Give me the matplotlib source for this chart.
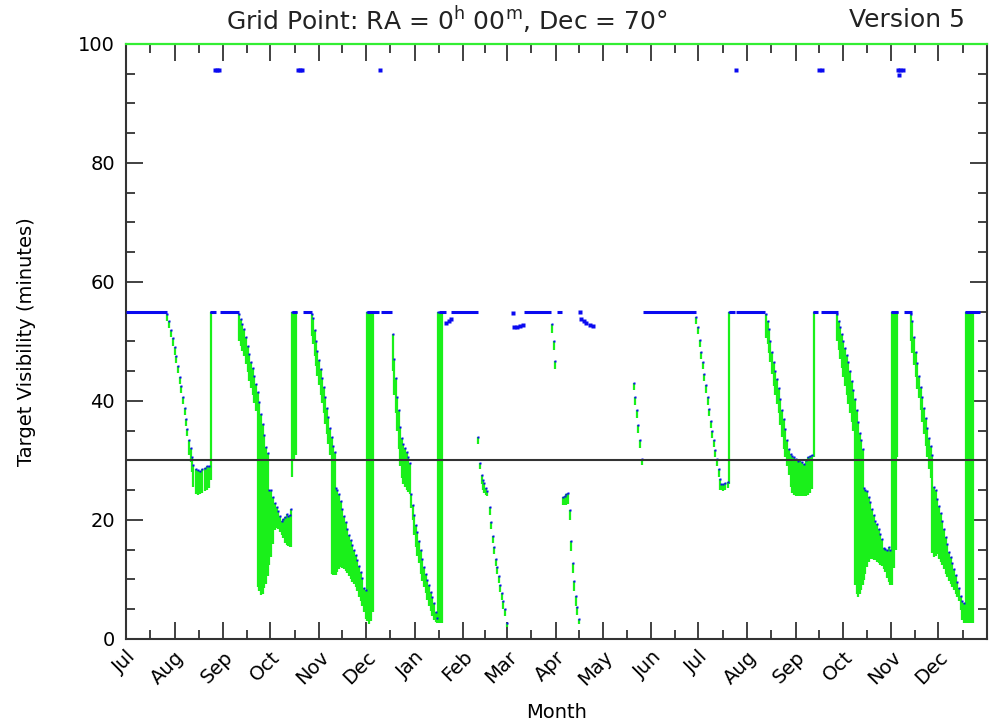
import numpy as np
import matplotlib.pyplot as plt
from matplotlib.ticker import MultipleLocator

# months along the x axis (18 months, Jul .. Dec of the following year)
month_names = ["Jul", "Aug", "Sep", "Oct", "Nov", "Dec", "Jan", "Feb", "Mar",
               "Apr", "May", "Jun", "Jul", "Aug", "Sep", "Oct", "Nov", "Dec"]
month_len = [31, 31, 30, 31, 30, 31, 31, 28, 31, 30, 31, 30, 31, 31, 30, 31, 30, 31]

# daily visibility: day since Jul 1, maximum (blue dot) and minimum (green bar) in minutes
vis_day = [
    26.3, 27.6, 28.7, 30.0, 31.1, 32.1, 33.2, 34.2, 35.3, 36.3, 37.4, 38.3, 39.1, 40.2, 41.3, 42.1,
    42.9, 44.4, 45.9, 47.2, 48.6, 50.2, 51.8, 53.1, 54.0,
    72.0, 73.1, 74.2, 75.2, 76.5, 77.6, 78.6, 79.7, 80.8, 81.8, 82.9, 84.0, 85.0, 86.1, 87.2, 88.2, 89.3, 90.3,
    91.2, 92.4, 93.7, 95.0, 96.1, 97.1, 98.2, 99.3, 100.3, 101.4, 102.5, 103.5, 104.6, 105.2,
    105.8, 107.1, 108.4,
    118.4, 119.4, 120.3, 121.1, 122.0, 123.1, 124.1, 125.2, 126.1, 127.1, 128.2, 129.0, 130.1, 131.2, 132.0, 133.1,
    133.7, 134.7, 135.8, 136.9, 137.9, 139.0, 140.1, 141.1, 142.2, 143.3, 144.3, 145.4, 146.5, 147.5, 148.6,
    149.6, 150.7, 151.7, 153.0,
    153.7, 154.9, 156.2, 157.5,
    170.0, 170.9, 172.0, 173.0, 173.9, 174.7, 175.8, 176.8, 177.9, 179.0, 180.0, 180.8, 181.9, 183.0,
    183.6, 184.7, 185.7, 186.6, 187.9, 188.9, 190.0, 191.1, 192.1, 193.2, 194.3, 195.3, 196.4, 197.5, 198.5,
    198.9, 200.2, 201.5,
    224.6, 225.7, 226.8, 227.6, 228.5, 229.3, 230.4, 232.1, 233.0, 233.8, 234.8, 235.9, 236.8, 237.9, 238.7,
    239.7, 240.6, 241.7, 242.7,
    271.8, 272.7, 273.7,
    278.6, 279.7, 280.7, 281.8, 282.9, 283.7, 284.8, 285.8, 286.9, 287.7, 288.8,
    323.9, 324.8, 325.9, 326.7, 327.7, 328.8,
    363.6, 364.7, 365.8, 366.8, 367.7, 368.7, 369.8, 370.9, 371.7, 372.8, 373.6, 374.7, 375.7, 376.8, 377.9, 378.7,
    379.6, 380.7, 382.1, 383.7, 384.3,
    408.1, 409.1, 410.0, 410.8, 411.9, 413.0, 414.0, 415.1, 416.2, 417.2, 418.3, 419.3, 420.4, 421.5, 422.5,
    423.8, 424.8,
    425.9, 427.2, 428.5, 429.7, 431.0, 432.3, 433.4, 434.7, 435.9, 437.2, 438.5,
    453.3, 454.4, 455.2, 456.3, 457.3, 458.4, 459.5, 460.5, 461.6, 462.7, 463.7, 464.8, 465.9, 466.9, 468.0,
    468.8, 469.7,
    470.3, 471.4, 472.5, 473.5, 474.6, 475.7, 476.7, 477.8, 478.8, 479.9, 480.9, 482.0, 483.1, 484.1, 485.2,
    486.3, 487.3,
    488.4, 489.6, 490.8, 491.9,
    500.3, 501.4, 502.4, 503.5, 504.5, 505.6, 506.7, 507.7, 508.8, 509.9, 510.9, 512.0, 513.1, 514.1, 515.2,
    516.3, 517.3, 518.4, 519.4, 520.5, 521.5, 522.6, 523.7, 524.7, 525.8, 526.9, 527.9, 529.0, 530.0, 531.1,
    532.2, 533.2, 534.3,
    535.3, 536.6, 537.8, 539.1, 540.2,
]
vis_max = [
    54.7, 53.5, 52.0, 50.5, 49.0, 47.5, 45.9, 44.1, 42.5, 40.7, 38.9, 37.0, 35.3, 33.5, 32.1, 30.6,
    29.2, 28.6, 28.4, 28.3, 28.6, 28.8, 29.0, 29.1, 55,
    54.6, 53.7, 52.9, 52.1, 50.7, 49.3, 47.9, 46.6, 45.5, 44.2, 42.8, 41.5, 39.8, 37.8, 36.1, 34.2, 32.2, 31.3,
    25.1, 25.0, 23.9, 22.9, 22.2, 21.5, 20.7, 19.9, 20.1, 20.5, 21.0, 20.6, 20.8, 21.9,
    55, 55, 55,
    54.6, 53.9, 51.9, 50.1, 48.4, 46.9, 45.4, 43.9, 42.3, 40.6, 38.9, 37.3, 35.4, 33.9, 32.5, 31.4,
    25.3, 25.0, 24.4, 23.2, 21.9, 20.6, 19.7, 18.5, 17.5, 16.6, 15.8, 14.9, 14.1, 13.2, 12.2,
    11.3, 10.2, 8.5, 8.3,
    55, 55, 55, 55,
    51.2, 47.0, 43.9, 40.6, 38.5, 35.7, 33.7, 32.8, 32.1, 31.4, 30.6, 29.6, 24.4, 22.5,
    20.9, 19.2, 18.0, 16.5, 15.0, 13.4, 12.1, 11.0, 9.9, 9.0, 7.9, 7.1, 6.0, 4.6, 3.6,
    55, 55, 55,
    33.9, 29.6, 27.5, 26.8, 26.2, 25.3, 24.9, 22.1, 19.7, 17.3, 15.4, 13.5, 12.1, 10.6, 9.1,
    7.7, 6.3, 5.1, 2.6,
    53.0, 50.1, 46.8,
    23.9, 24.1, 24.3, 24.6, 21.7, 16.5, 12.8, 9.8, 7.3, 5.3, 3.3,
    43.1, 40.6, 38.5, 35.9, 33.4, 30.3,
    54.1, 52.5, 50.2, 48.2, 46.6, 44.5, 42.6, 40.6, 38.7, 36.6, 34.9, 33.4, 31.7, 30.3, 28.6, 26.9,
    26.1, 26.1, 26.2, 26.4, 55,
    54.6, 53.5, 52.1, 50.1, 48.2, 46.6, 45.1, 43.7, 42.2, 40.3, 38.5, 37.0, 35.3, 33.4, 32.0,
    31.1, 30.7,
    30.6, 30.3, 29.9, 30.0, 29.7, 29.4, 30.0, 30.6, 30.8, 30.9, 55,
    54.6, 53.5, 52.5, 51.2, 50.1, 48.9, 47.7, 46.5, 45.1, 43.4, 41.9, 40.3, 38.5, 36.5, 34.6,
    33.4, 32.0,
    25.4, 25.1, 24.9, 23.9, 23.0, 21.9, 20.9, 19.9, 19.3, 18.5, 17.7, 16.8, 15.3, 15.1, 15.0,
    15.5, 15.0,
    55, 55, 55, 55,
    54.6, 53.5, 50.7, 48.3, 46.4, 44.2, 42.4, 40.7, 38.8, 37.1, 35.4, 33.7, 32.5, 30.9, 25.6,
    25.1, 23.6, 22.3, 21.1, 19.9, 18.4, 17.2, 16.0, 14.6, 13.8, 12.7, 11.7, 10.7, 9.6, 8.5,
    7.2, 6.3, 6.1,
    55, 55, 55, 55, 55,
]
vis_min = [
    53.5, 52.3, 50.8, 49.3, 47.8, 46.3, 44.7, 42.9, 41.3, 39.5, 37.7, 35.8, 34.1, 31.0, 29.8, 28.0,
    25.5, 24.3, 24.2, 24.3, 24.5, 24.8, 25.1, 25.4, 26.8,
    50.1, 49.2, 48.4, 47.6, 46.2, 44.8, 43.4, 42.1, 41.0, 39.7, 38.3, 8.8, 8.0, 7.4, 7.6, 8.5, 9.3, 10.5,
    12.5, 13.8, 16.0, 18.3, 18.6, 18.5, 18.0, 17.5, 16.9, 16.2, 15.8, 15.6, 15.4, 15.5,
    27.2, 30.0, 31.0,
    51.0, 49.5, 47.5, 45.8, 44.2, 42.6, 41.0, 39.6, 38.0, 36.2, 34.5, 32.8, 31.0, 11.0, 10.7, 10.7,
    10.8, 11.2, 11.8, 12.1, 12.0, 11.7, 11.4, 11.1, 10.6, 10.1, 9.6, 9.2, 8.7, 8.0, 7.0,
    6.3, 5.5, 4.5, 3.3,
    3.0, 2.5, 3.0, 4.5,
    45.0, 41.0, 38.0, 35.0, 32.0, 29.0, 27.0, 26.0, 25.5, 25.0, 24.7, 24.4, 22.0, 20.0,
    17.5, 15.5, 14.0, 12.8, 11.0, 9.8, 8.8, 7.7, 6.5, 5.6, 4.7, 3.9, 3.2, 2.8, 2.6,
    2.6, 2.6, 2.6,
    32.8, 28.5, 26.0, 25.0, 24.5, 24.2, 24.0, 20.9, 18.5, 16.1, 14.2, 12.3, 10.9, 9.4, 7.9,
    6.5, 5.1, 3.9, 2.0,
    51.5, 48.6, 45.3,
    22.5, 22.5, 22.5, 22.6, 20.0, 14.8, 11.1, 8.1, 5.6, 4.0, 2.5,
    41.8, 39.3, 37.2, 34.6, 32.1, 29.2,
    52.9, 51.3, 49.0, 47.0, 45.4, 43.3, 41.4, 39.4, 37.5, 35.4, 33.7, 32.2, 30.5, 29.1, 27.2, 25.0,
    25.0, 24.8, 25.0, 25.3, 26.0,
    50.5, 49.5, 48.0, 46.5, 44.5, 42.5, 41.0, 39.5, 38.0, 36.0, 34.0, 32.0, 30.5, 29.0, 27.5,
    25.5, 24.5,
    24.2, 24.0, 24.0, 24.1, 24.0, 24.0, 24.1, 24.2, 24.5, 25.2, 30.5,
    50.0, 48.5, 47.0, 45.5, 44.0, 42.5, 41.0, 39.5, 38.0, 36.5, 35.0, 9.0, 7.6, 7.1, 7.6,
    8.2, 9.0,
    9.9, 11.0, 12.1, 13.0, 13.5, 13.5, 13.3, 13.2, 13.0, 12.8, 12.5, 12.2, 11.8, 11.2, 10.2,
    9.6, 9.0,
    9.0, 12.0, 15.0, 30.5,
    50.0, 48.0, 46.0, 44.0, 42.0, 40.5, 38.5, 36.5, 34.5, 32.5, 30.5, 28.5, 27.0, 14.4, 13.8,
    14.0, 14.2, 13.5, 13.0, 12.4, 11.8, 11.0, 10.4, 9.8, 9.3, 8.7, 8.2, 7.6, 7.1, 6.3,
    4.8, 3.2, 2.6,
    2.6, 2.6, 2.6, 2.6, 2.6,
]

# stretches where the target is visible the full 55 minutes (start day, end day)
full_start = [0.0, 53.6, 59.9, 105.6, 112.7, 153.5, 162.6, 199.6, 207.4, 253.8,
              274.6, 329.6, 384.3, 389.1, 438.0, 443.3, 487.7, 496.3, 535.0]
full_end = [26.1, 57.2, 72.0, 109.2, 118.4, 161.5, 169.6, 204.0, 224.4, 271.2,
            278.0, 363.2, 388.1, 407.6, 441.0, 454.0, 492.4, 501.3, 544.5]
full_value = 55

# isolated maximum-only points
extra_day = [204.2, 205.7, 207.0, 246.7, 247.4, 249.3, 251.2, 253.1,
             289.7, 290.3, 291.8, 293.5, 295.6, 297.7,
             56.7, 58.0, 59.2, 109.7, 111.0, 112.2, 161.9, 388.9,
             441.8, 443.7, 492.2, 493.8, 495.4, 492.9]
extra_val = [53.1, 53.4, 53.8, 54.8, 52.4, 52.5, 52.6, 52.7,
             55.0, 53.8, 53.4, 53.1, 52.8, 52.6,
             95.6, 95.6, 95.6, 95.6, 95.6, 95.6, 95.6, 95.6,
             95.6, 95.6, 95.6, 95.6, 95.6, 94.8]

threshold = 30

green = "#1af01a"
blue = "#0a0af0"
dark = "#333333"

fig = plt.figure(figsize=(9.89, 7.28), dpi=100)
ax = fig.add_axes([0.1274, 0.1223, 0.8706, 0.8173])

ax.vlines(vis_day, vis_min, vis_max, color=green, lw=1.6, zorder=2)
ax.hlines([full_value] * len(full_start), full_start, full_end, color=blue, lw=2.2, zorder=3)
ax.plot(vis_day, vis_max, "s", ms=2.0, color=blue, mec="none", zorder=4)
ax.plot(extra_day, extra_val, "s", ms=2.4, color=blue, mec="none", zorder=4)
ax.axhline(threshold, color=dark, lw=1.5, zorder=5)

month_start = np.concatenate([[0], np.cumsum(month_len)])
ax.set_xlim(0, month_start[-1])
ax.set_ylim(0, 100)

ax.set_xticks(month_start[:-1])
ax.set_xticklabels(month_names, rotation=45, ha="right", rotation_mode="anchor",
                   fontsize=14)
ax.set_xticks(month_start[:-1] + np.array(month_len) / 2, minor=True)
ax.set_yticks([0, 20, 40, 60, 80, 100])
ax.yaxis.set_minor_locator(MultipleLocator(5))
ax.tick_params(axis="both", which="both", direction="in", top=True, right=True,
               color=dark, width=1.3)
ax.tick_params(axis="both", which="major", length=12.5)
ax.tick_params(axis="both", which="minor", length=6.5)
ax.tick_params(axis="y", labelsize=14, pad=8)
ax.tick_params(axis="x", which="major", pad=6)

for side in ["left", "right", "bottom"]:
    ax.spines[side].set_color(dark)
    ax.spines[side].set_linewidth(1.5)
ax.spines["top"].set_color("#33ee33")
ax.spines["top"].set_linewidth(1.6)

ax.set_ylabel("Target Visibility (minutes)", fontsize=14)
ax.yaxis.set_label_coords(-0.104, 0.5)
ax.set_xlabel("Month", fontsize=14)
ax.xaxis.set_label_coords(0.5, -0.108)

fig.text(447 / 989, 1 - 20 / 728, r"Grid Point: RA = 0$^{\rm h}$ 00$^{\rm m}$, Dec = 70°",
         fontsize=18, ha="center", va="center", color="#222222")
fig.text(965 / 989, 1 - 20 / 728, "Version 5", fontsize=18, ha="right", va="center",
         color="#222222")

fig.savefig("out.png", dpi=100)
